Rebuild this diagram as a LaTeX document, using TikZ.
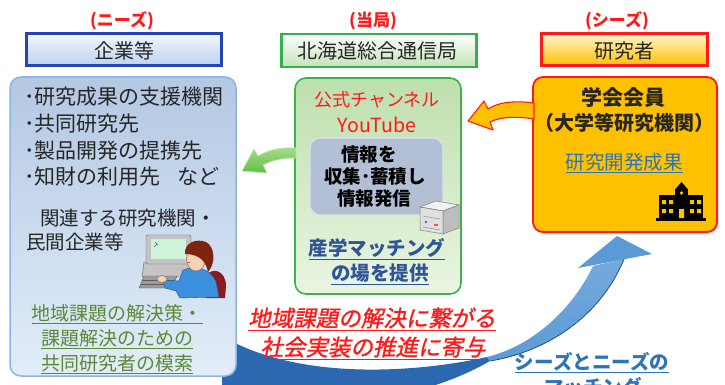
\documentclass[tikz,border=0pt]{standalone}
\usepackage{fontspec}
\setmainfont{Noto Sans CJK JP}
\newfontfamily\slantjp[FakeSlant=0.2,FakeBold=1.2]{Noto Sans CJK JP}
\usetikzlibrary{shadows}

\definecolor{hdrred}{HTML}{FF1A1A}
\definecolor{ink}{HTML}{262626}
\definecolor{hblueline}{HTML}{2443B8}
\definecolor{hbluetop}{HTML}{F2F7FD}
\definecolor{hbluebot}{HTML}{BCD3EE}
\definecolor{hgreenline}{HTML}{35B14A}
\definecolor{hgreentop}{HTML}{FFFFFF}
\definecolor{hgreenbot}{HTML}{C5E3B8}
\definecolor{hyeltop}{HTML}{FFF6D0}
\definecolor{hyelbot}{HTML}{FFC000}
\definecolor{lbline}{HTML}{8DB4E2}
\definecolor{lbtop}{HTML}{B4C8E3}
\definecolor{lbbot}{HTML}{E2EDF9}
\definecolor{cbline}{HTML}{3CB44B}
\definecolor{cbtop}{HTML}{BEDFAD}
\definecolor{cbbot}{HTML}{EAF5E3}
\definecolor{ibfill}{HTML}{B3BFD4}
\definecolor{ibline}{HTML}{DCE2EC}
\definecolor{rbfill}{HTML}{FFC000}
\definecolor{rbline}{HTML}{FF1A1A}
\definecolor{seedgreen}{HTML}{5A8A36}
\definecolor{linkblue}{HTML}{2F5597}
\definecolor{lightlink}{HTML}{2E75B6}
\definecolor{ribbonfront}{HTML}{5B9BD5}
\definecolor{ribbonback}{HTML}{2C68B0}
\definecolor{ribbonedge}{HTML}{1F4E86}
\definecolor{arrgreen}{HTML}{62C043}
\definecolor{arrgreenlt}{HTML}{A6DC8A}
\definecolor{pcgray}{HTML}{C4C4C4}
\definecolor{pcline}{HTML}{5E5E5E}
\definecolor{keygray}{HTML}{9C9C9C}
\definecolor{screen}{HTML}{CDF4D8}
\definecolor{shirt}{HTML}{3C8FDA}
\definecolor{shirtline}{HTML}{1E5A9A}
\definecolor{skin}{HTML}{F6D2B2}
\definecolor{skinline}{HTML}{9A6A50}
\definecolor{hair}{HTML}{7E2410}
\definecolor{chairred}{HTML}{8E1A1E}
\definecolor{windowyel}{HTML}{FFC000}

\tikzset{
  jp/.style={font=\fontsize{#1}{#1}\selectfont, inner sep=0pt, anchor=base, yshift={-0.38*#1}},
  headbox/.style={rectangle, inner sep=0pt, line width=2.4pt,
    drop shadow={opacity=0.35, shadow xshift=1.5pt, shadow yshift=-1.5pt}},
  bigbox/.style={rectangle, rounded corners=11pt, inner sep=0pt},
}

\begin{document}
\begin{tikzpicture}[x=1pt,y=-1pt]
\useasboundingbox (0,0) rectangle (725,385);
\fill[white] (0,0) rectangle (725,385);

% ---- matching ribbon (drawn first, it passes behind the company box) ----
\fill[ribbonback] (222,336) .. controls (300,382) and (420,372) .. (487,357)
   -- (490,361) .. controls (420,402) and (300,420) .. (222,385) -- cycle;
\shade[top color=ribbonfront!85!white, bottom color=ribbonfront]
   (593,266) .. controls (572,310) and (532,346) .. (487,357)
   -- (490,361) .. controls (545,352) and (600,318) .. (624,259) -- cycle;
\draw[ribbonedge, line width=0.8pt] (490,361) .. controls (545,352) and (600,318) .. (624,259);
\fill[ribbonfront] (578,268) -- (617,236) -- (652,254) -- cycle;
\coordinate (ribbontip) at (617,236);

% ---- column headings ----
\node[jp=17, text=hdrred] (needs) at (122,20) {\bfseries (ニーズ)};
\node[jp=17, text=hdrred] (office) at (373,20) {\bfseries (当局)};
\node[jp=17, text=hdrred] (seeds) at (617,20) {\bfseries (シーズ)};

\node[headbox, draw=hblueline, top color=hbluetop, bottom color=hbluebot,
      minimum width=195pt, minimum height=32pt] (hcomp) at (124,49.5) {};
\node[jp=20, text=ink] (hcomptxt) at (124,51) {企業等};

\node[headbox, draw=hgreenline, top color=hgreentop, bottom color=hgreenbot,
      minimum width=195pt, minimum height=33pt] (hoff) at (379,50.5) {};
\node[jp=20, text=ink] (hofftxt) at (377,51) {北海道総合通信局};

\node[headbox, draw=rbline, top color=hyeltop, bottom color=hyelbot,
      minimum width=166pt, minimum height=32pt] (hres) at (624.5,49.5) {};
\node[jp=20, text=ink] (hrestxt) at (624,51) {研究者};

% ---- company column ----
\node[bigbox, draw=lbline, line width=1.5pt, top color=lbtop, bottom color=lbbot,
      minimum width=226pt, minimum height=299pt] (comp) at (123,226.5) {};
\node[jp=21, text=ink, anchor=base west] (c1) at (24,97)  {･研究成果の支援機関};
\node[jp=21, text=ink, anchor=base west] (c2) at (24,124) {･共同研究先};
\node[jp=21, text=ink, anchor=base west] (c3) at (24,151) {･製品開発の提携先};
\node[jp=21, text=ink, anchor=base west] (c4) at (24,177) {･知財の利用先\hspace{0.8em}など};
\node[jp=19.5, text=ink, anchor=base west] (c5) at (40,218) {関連する研究機関・};
\node[jp=19.5, text=ink, anchor=base west] (c6) at (26,242) {民間企業等};

% person at a computer
\fill[chairred] (206,277) .. controls (211,266) and (226,270) .. (226,286) -- (225,298) -- (206,298) -- cycle;
\filldraw[draw=pcline, fill=pcgray] (144,262) -- (196,262) -- (198,277) -- (142,277) -- cycle;
\filldraw[draw=pcline, fill=pcgray, rounded corners=2pt] (146,235) rectangle (191,264);
\fill[screen] (151,239) rectangle (186,259);
\draw[pcline, line width=0.6pt] (155,242) -- (158,245) (154,247) -- (157,244);
\filldraw[draw=pcline, fill=keygray] (139,288) -- (144,276) -- (177,276) -- (172,288) -- cycle;
\draw[pcline, line width=0.6pt] (142,280) -- (175,280) (141,284) -- (173.5,284);
\filldraw[draw=shirtline, fill=shirt] (183,270) .. controls (196,265) and (210,268) .. (216,282)
   -- (219,297) -- (180,298) -- (176,291) -- (165,288) -- (163,280) -- (179,281) -- cycle;
\filldraw[draw=skinline, fill=skin, line width=0.5pt] (162,279) ellipse (5 and 3.5);
\filldraw[draw=skinline, fill=skin, line width=0.5pt] (196,259) ellipse (9.5 and 12);
\fill[hair] (185,254) .. controls (184,243) and (196,238) .. (206,242)
   .. controls (215,247) and (216,263) .. (208,272) .. controls (206,262) and (200,254) .. (185,254) -- cycle;
\draw[skinline, line width=0.6pt] (187,262) -- (190,262);

\node[jp=19, text=seedgreen] (g1) at (117,313) {\underline{地域課題の解決策・}};
\node[jp=19, text=seedgreen] (g2) at (117,338) {\underline{課題解決のための}};
\node[jp=19, text=seedgreen] (g3) at (117,363) {\underline{共同研究者の模索}};

% ---- bureau column ----
\node[bigbox, draw=cbline, line width=1.6pt, top color=cbtop, bottom color=cbbot,
      minimum width=166pt, minimum height=216pt] (bureau) at (378,186) {};
\node[jp=18, text=hdrred] (yt1) at (377,100) {公式チャンネル};
\node[jp=19.5, text=hdrred] (yt2) at (377,125) {YouTube};
\node[bigbox, rounded corners=10pt, draw=ibline, line width=1.2pt, fill=ibfill,
      minimum width=133pt, minimum height=77pt] (info) at (376.5,176.5) {};
\node[jp=18.5, text=black] (i1) at (369,154) {\bfseries 情報を};
\node[jp=18.5, text=black] (i2) at (375,176) {\bfseries 収集･蓄積し};
\node[jp=18.5, text=black] (i3) at (374,198) {\bfseries 情報発信};
% server
\filldraw[draw=pcline!80, fill=white!95!black, line width=0.5pt] (420,207) -- (436,201) -- (459,205) -- (443,211) -- cycle;
\filldraw[draw=pcline!80, fill=white!88!black, line width=0.5pt] (420,207) -- (443,211) -- (443,234) -- (420,230) -- cycle;
\filldraw[draw=pcline!80, fill=white!74!black, line width=0.5pt] (443,211) -- (459,205) -- (459,228) -- (443,234) -- cycle;
\fill[lightlink] (426,222) circle (1.3);
\draw[pcline!70, line width=0.5pt] (423,216) -- (440,219) (423,227) -- (440,230);
\fill[red!70] (434,224) rectangle (438,225.5);

\node[jp=19.5, text=linkblue] (m1) at (377,248) {\bfseries\underline{産学マッチング}};
\node[jp=19.5, text=linkblue] (m2) at (380,273) {\bfseries\underline{の場を提供}};

% ---- researcher column ----
\node[bigbox, rounded corners=10pt, draw=rbline, line width=1.8pt, fill=rbfill,
      drop shadow={opacity=0.3, shadow xshift=1.5pt, shadow yshift=-2pt},
      minimum width=184pt, minimum height=155pt] (res) at (625,154.5) {};
\node[jp=21, text=ink] (r1) at (623,98)  {\bfseries 学会会員};
\node[jp=20, text=ink] (r2) at (624,123) {\bfseries （大学等研究機関）};
\node[jp=19.5, text=lightlink] (r3) at (624,162) {\underline{研究開発成果}};
% school building
\fill[black] (659,195) rectangle (703,219);
\fill[black] (675,189) rectangle (688,219);
\fill[black] (675,189.5) -- (681.5,182) -- (688,189.5) -- cycle;
\fill[black] (656,217.5) rectangle (706,220.5);
\fill[windowyel] (662,200) rectangle (666,204) (669,200) rectangle (673,204)
                 (662,209) rectangle (666,213) (669,209) rectangle (673,213)
                 (690,200) rectangle (694,204) (697,200) rectangle (701,204)
                 (690,209) rectangle (694,213) (697,209) rectangle (701,213)
                 (679,209) rectangle (684,218);
\fill[windowyel] (681.5,193) circle (1.8);

% ---- flow arrows ----
\coordinate (orangetail) at (534,103);
\coordinate (orangetip) at (468,121);
\filldraw[draw=rbline, fill=rbfill, line width=1.1pt, line join=round]
  (orangetail) .. controls (512,100) and (497,103) .. (488,109)
  -- (484,101) -- (orangetip) -- (493,130) -- (490,122)
  .. controls (500,117) and (515,116) .. (534,119) -- cycle;

\coordinate (greentip) at (242,171);
\shade[top color=arrgreenlt, bottom color=arrgreen, draw=arrgreenlt!70!white, line width=0.6pt]
  (296,148) .. controls (281,147) and (268,150) .. (258,156)
  -- (254,149) -- (greentip) -- (267,173) -- (263,165)
  .. controls (272,160) and (284,158) .. (296,158) -- cycle;

% ---- bottom messages ----
\node[jp=22.5, text=hdrred] (goal1) at (372,318) {\slantjp\underline{地域課題の解決に繋がる}};
\node[jp=22.5, text=hdrred] (goal2) at (373,347) {\slantjp\underline{社会実装の推進に寄与}};
\node[jp=19.5, text=lightlink] (match1) at (592,362) {\bfseries\underline{シーズとニーズの}};
\node[jp=19.5, text=lightlink] (match2) at (593,387) {\bfseries\underline{マッチング}};
\end{tikzpicture}
\end{document}
